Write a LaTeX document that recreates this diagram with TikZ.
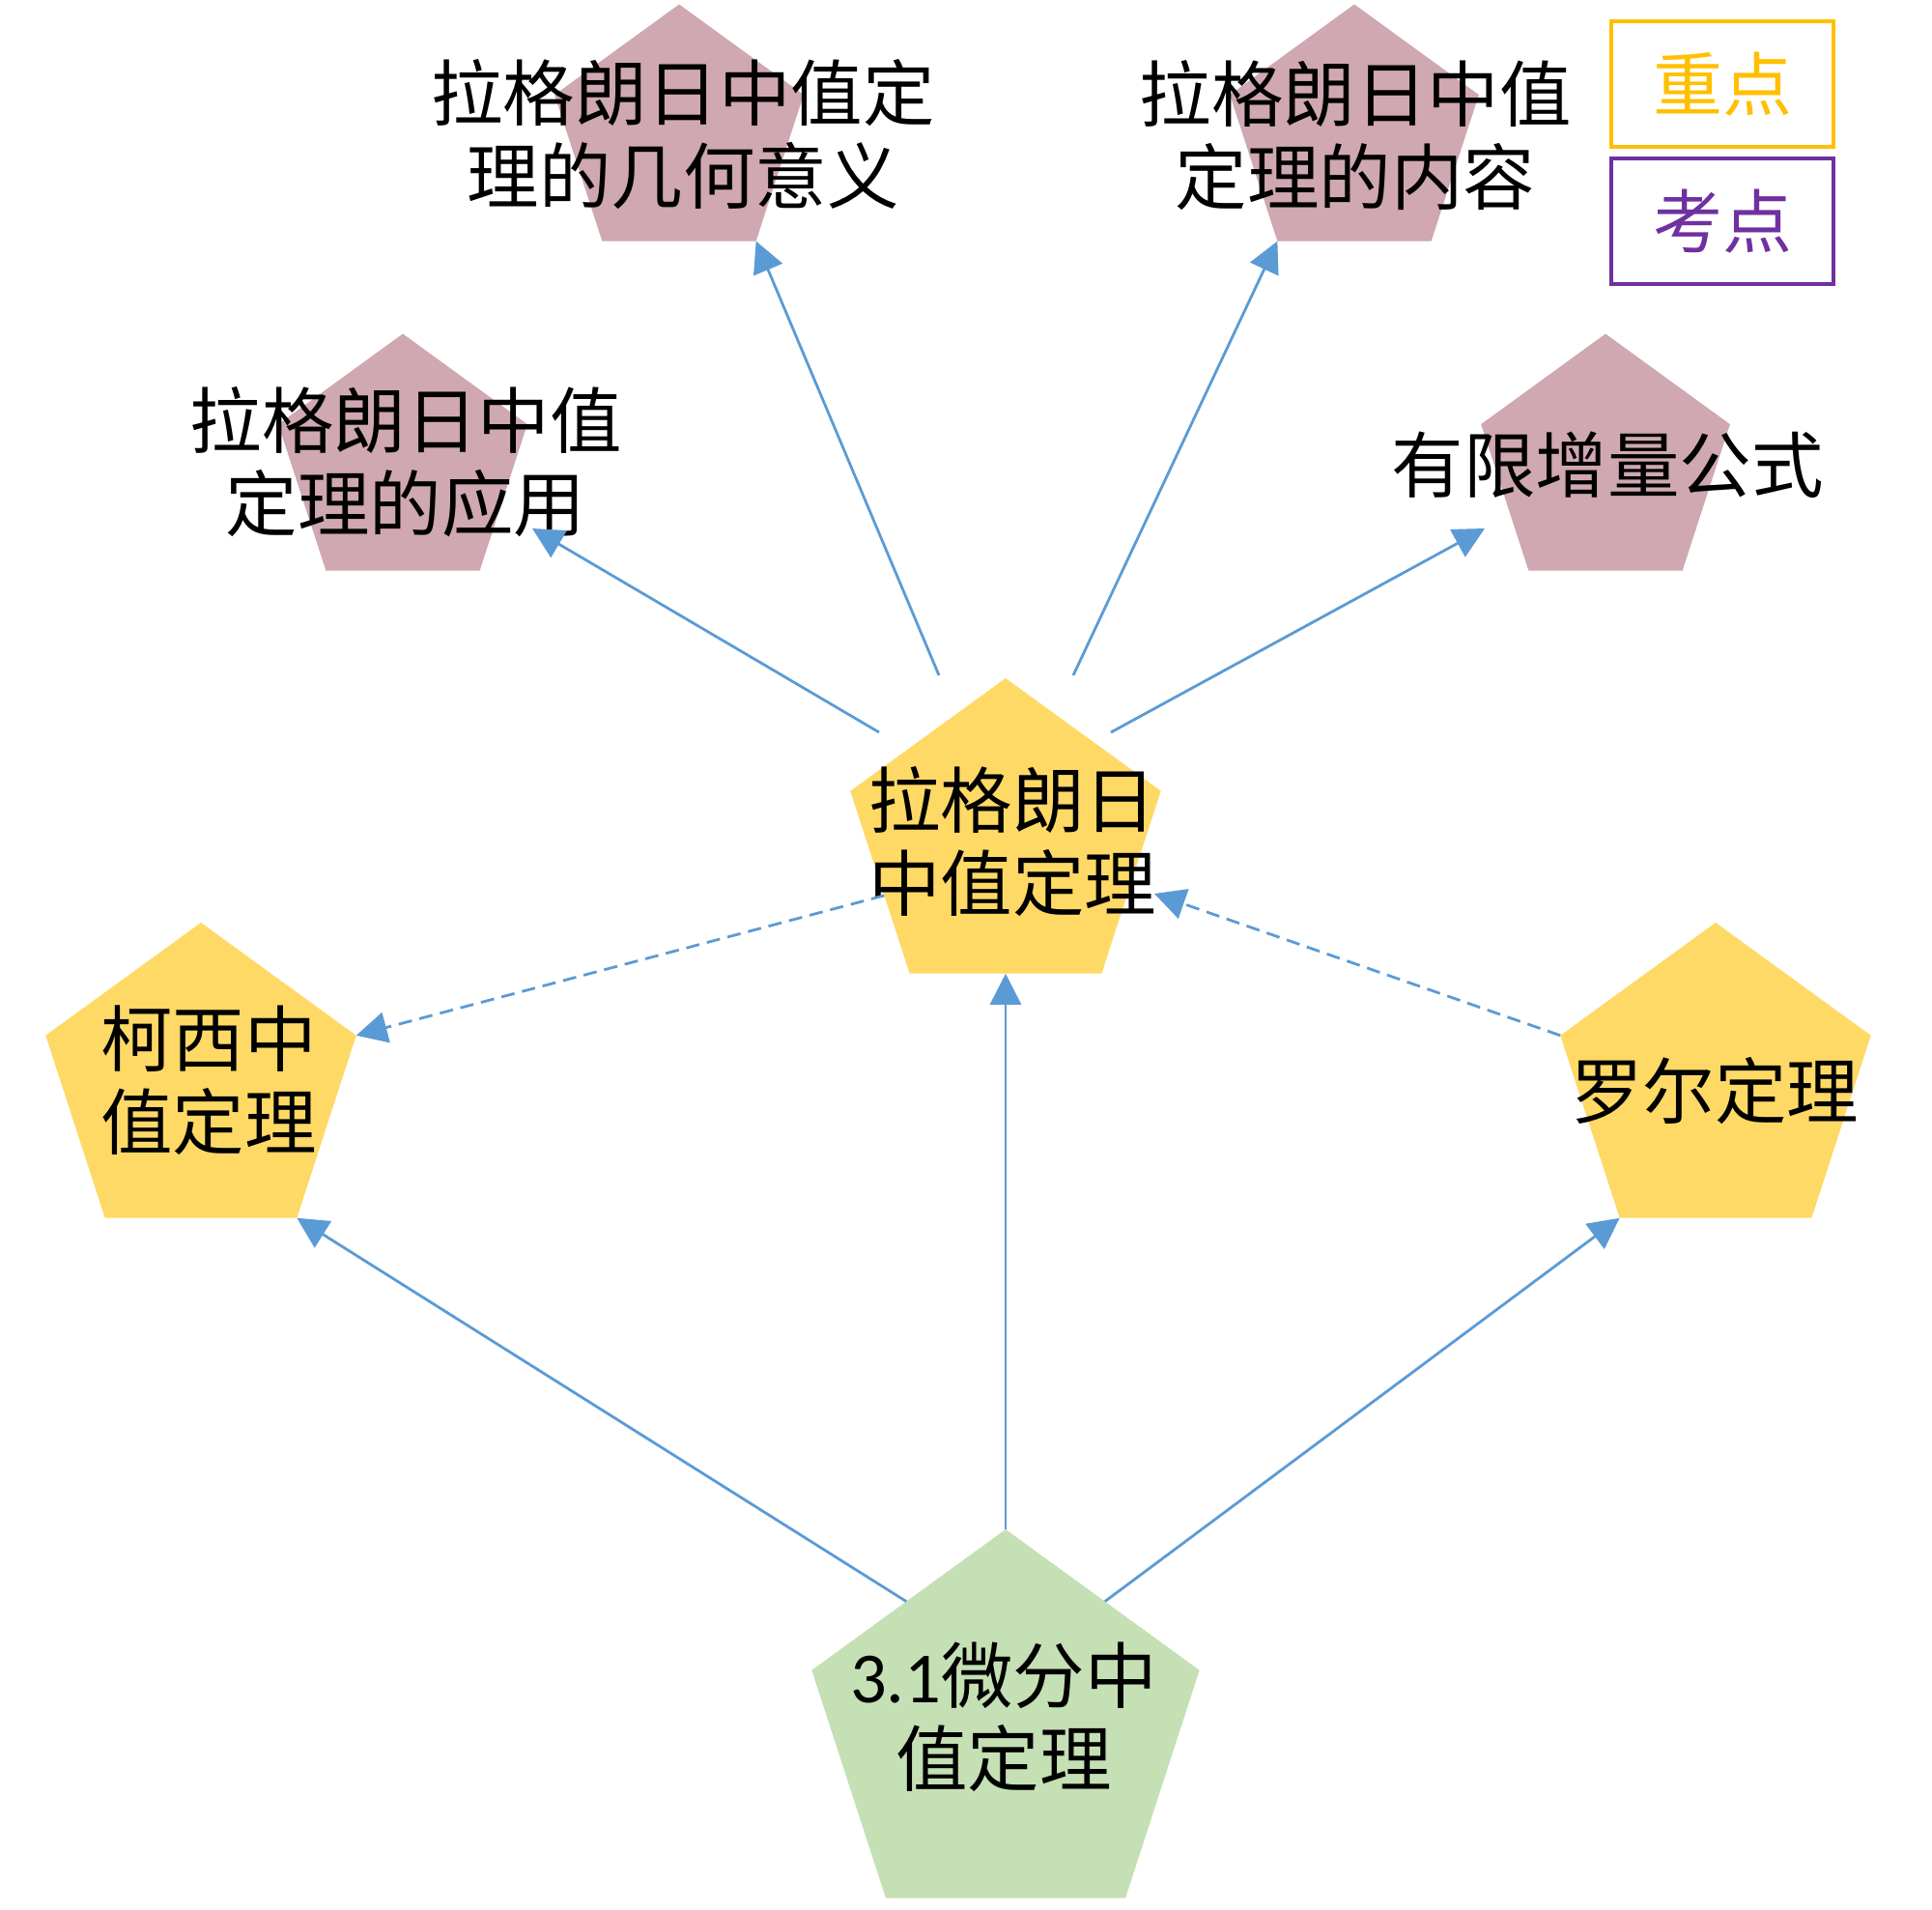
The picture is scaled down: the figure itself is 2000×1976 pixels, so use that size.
\documentclass[tikz,border=0pt]{standalone}
\usepackage{fontspec}
\setmainfont{Noto Sans CJK SC}
\newfontfamily\latf{Carlito}
\usetikzlibrary{shapes.geometric,arrows.meta,calc}
\definecolor{ylw}{RGB}{255,217,102}
\definecolor{pnk}{RGB}{207,168,177}
\definecolor{grn}{RGB}{197,224,180}
\definecolor{arr}{RGB}{91,155,213}
\definecolor{gold}{RGB}{255,192,0}
\definecolor{purp}{RGB}{112,48,160}
\begin{document}
\begin{tikzpicture}[x=1pt,y=-1pt,
  penta/.style={regular polygon, regular polygon sides=5, inner sep=0pt, outer sep=0pt, draw=none},
  ybox/.style={penta, minimum size=338pt, fill=ylw},
  pbox/.style={penta, minimum size=271pt, fill=pnk},
  gbox/.style={penta, minimum size=422pt, fill=grn},
  txt/.style={align=center, inner sep=0pt, font=\fontsize{74.5pt}{86pt}\selectfont},
  legend/.style={rectangle, line width=3.5pt, minimum width=230pt, minimum height=130pt, inner sep=0pt, font=\fontsize{72pt}{80pt}\selectfont},
  conn/.style={draw=arr, line width=2.8pt, -{Triangle[length=32pt,width=32pt]}},
  dconn/.style={conn, dash pattern=on 14pt off 8pt}
]
\useasboundingbox (0,0) rectangle (2000,1976);
\fill[white] (0,0) rectangle (2000,1976);

% pentagons
\node[gbox] (g) at (1041,1794) {};
\node[ybox] (c) at (1041,871) {};
\node[ybox] (k) at (208,1124) {};
\node[ybox] (r) at (1776,1124) {};
\node[pbox] (a) at (417,481) {};
\node[pbox] (j) at (703,140) {};
\node[pbox] (n) at (1402,140) {};
\node[pbox] (y) at (1662,481) {};

% texts
\node[txt] (tg) at (1039,1777) {{\latf 3.1}微分中\\值定理};
\node[txt] (tc) at (1048,871) {拉格朗日\\中值定理};
\node[txt] (tk) at (216,1118) {柯西中\\值定理};
\node[txt] (tr) at (1775,1129) {罗尔定理};
\node[txt] (ta) at (420,478) {拉格朗日中值\\定理的应用};
\node[txt] (tj) at (707,139) {拉格朗日中值定\\理的几何意义};
\node[txt] (tn) at (1403,140) {拉格朗日中值\\定理的内容};
\node[txt] (ty) at (1664,481) {有限增量公式};

% legend
\node[legend, draw=gold, text=gold] (l1) at (1783,87) {重点};
\node[legend, draw=purp, text=purp] (l2) at (1783,229) {考点};

% connectors
\draw[conn] (g.corner 1) -- (c.270);
\draw[conn] (g.127) -- (k.corner 4);
\draw[conn] (g.53) -- (r.corner 3);
\draw[dconn] (c.204) -- (k.corner 5);
\draw[dconn] (r.corner 2) -- ($(c)+(154,54)$);
\draw[conn] ($(c)+(-131,-113)$) -- ($(a)+(134,66)$);
\draw[conn] ($(c)+(-69,-172)$) -- (j.corner 4);
\draw[conn] ($(c)+(70,-172)$) -- (n.corner 3);
\draw[conn] ($(c)+(109,-113)$) -- ($(y)+(-125,66)$);
\end{tikzpicture}
\end{document}
